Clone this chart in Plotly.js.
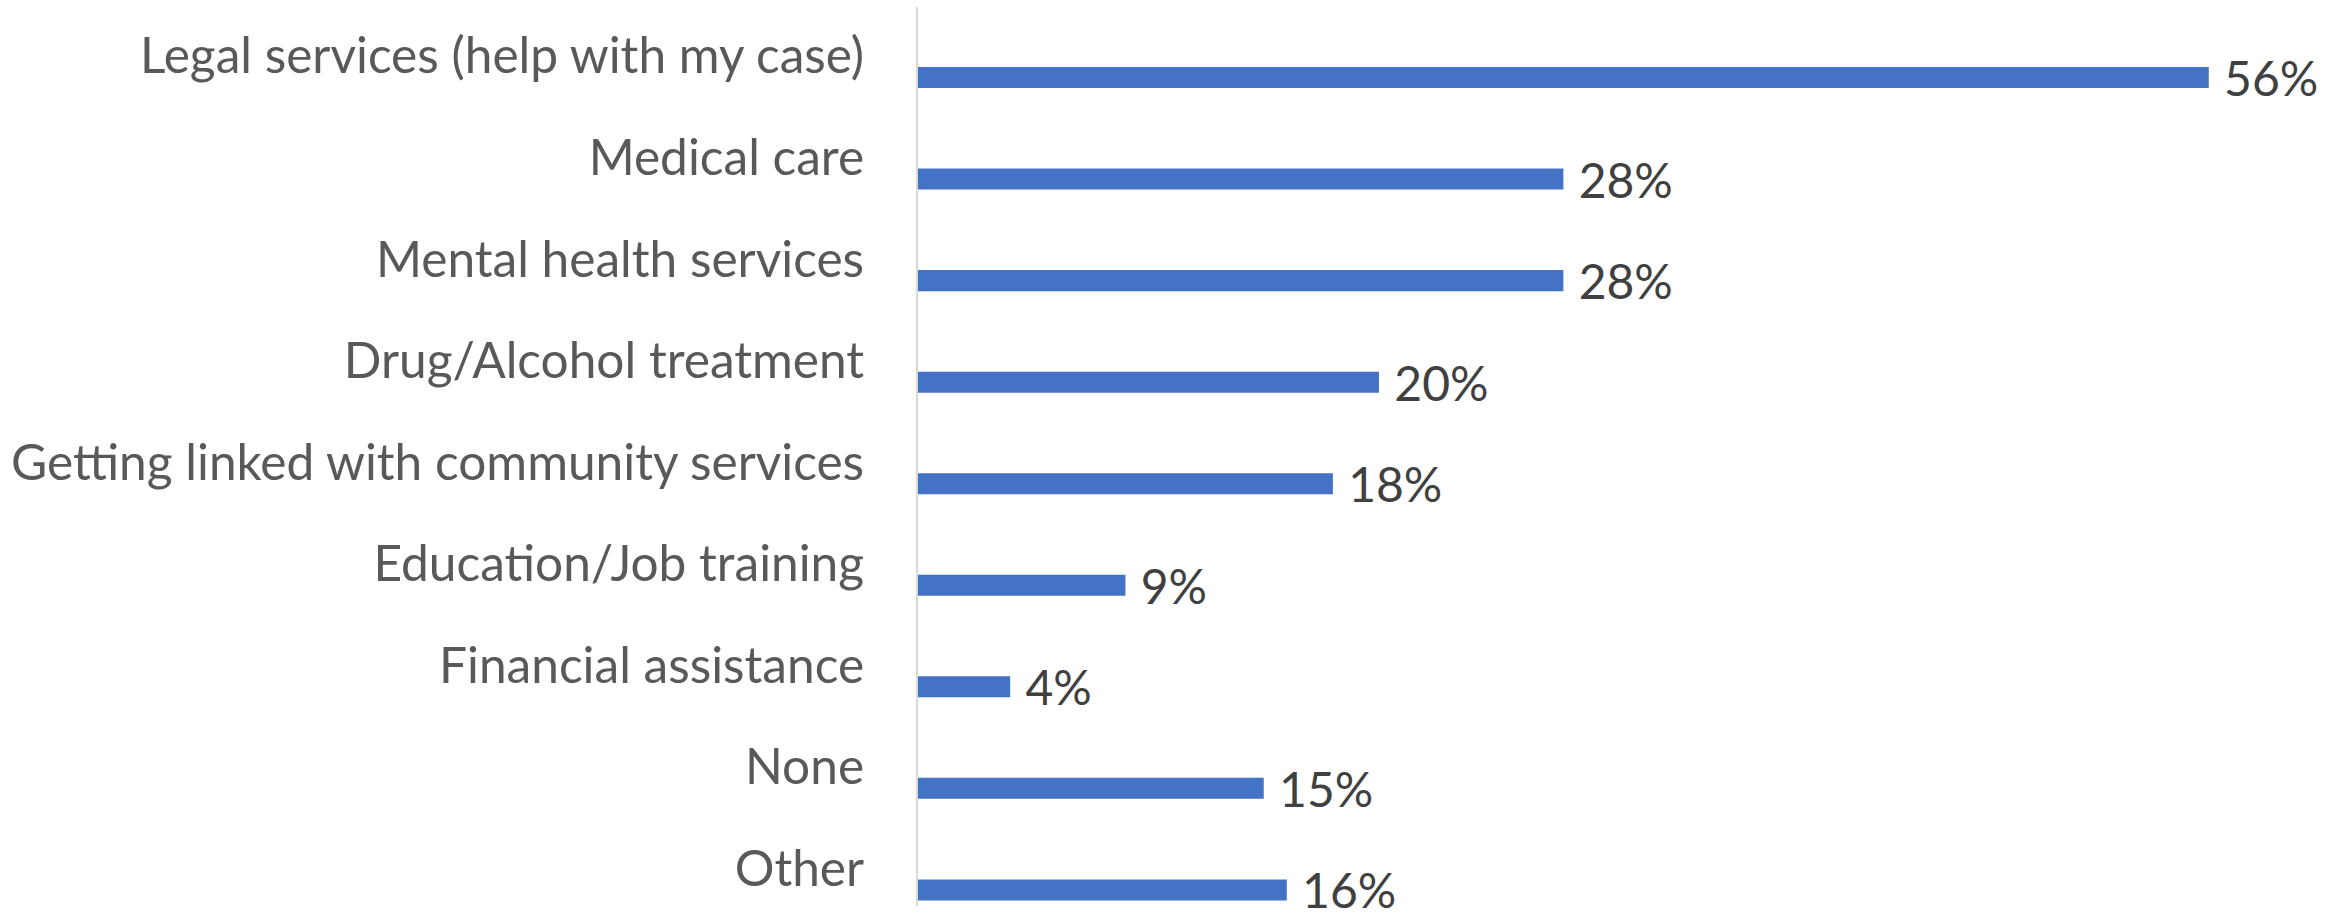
<!DOCTYPE html>
<html>
<head>
<meta charset="utf-8">
<script src="https://cdn.plot.ly/plotly-3.0.1.min.js"></script>
<style>html,body{margin:0;padding:0;background:#fff;}#chart{width:2348px;height:913px;}</style>
</head>
<body>
<div id="chart"></div>
<script>
const categories = [
  "Legal services (help with my case)",
  "Medical care",
  "Mental health services",
  "Drug/Alcohol treatment",
  "Getting linked with community services",
  "Education/Job training",
  "Financial assistance",
  "None",
  "Other"
];
const values = [56, 28, 28, 20, 18, 9, 4, 15, 16];

const trace = {
  type: "bar",
  orientation: "h",
  y: categories,
  x: values,
  width: 0.207,
  offset: 0.108,
  marker: {color: "#4472C4", line: {width: 0}},
  texttemplate: "\u00a0%{x}%",
  textposition: "outside",
  constraintext: "none",
  cliponaxis: false,
  textfont: {family: "Lato, 'Open Sans', sans-serif", size: 48, color: "#404040"},
  hoverinfo: "none"
};

const layout = {
  width: 2348,
  height: 913,
  margin: {l: 918, r: 0, t: 7, b: 7},
  paper_bgcolor: "#ffffff",
  plot_bgcolor: "#ffffff",
  showlegend: false,
  xaxis: {
    range: [0, 62.04],
    showgrid: false,
    zeroline: false,
    showline: false,
    showticklabels: false,
    ticks: ""
  },
  yaxis: {
    type: "category",
    range: [8.37, -0.483],
    autorange: false,
    showgrid: false,
    zeroline: false,
    showline: true,
    linecolor: "#d9d9d9",
    linewidth: 2,
    ticks: "",
    ticklabelstandoff: 42,
    automargin: false,
    tickfont: {family: "Lato, 'Open Sans', sans-serif", size: 49.6, color: "#595959"}
  }
};

Plotly.newPlot("chart", [trace], layout, {displayModeBar: false, staticPlot: true});
</script>
</body>
</html>
